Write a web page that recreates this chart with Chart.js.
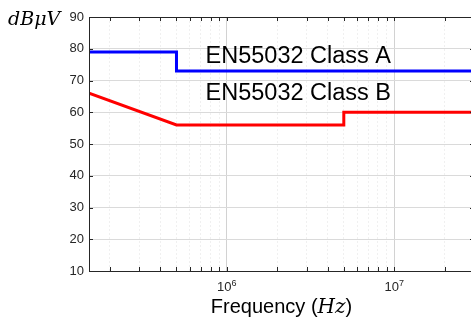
<!DOCTYPE html>
<html>
<head>
<meta charset="utf-8">
<script src="https://cdn.jsdelivr.net/npm/chart.js@4.4.1/dist/chart.umd.min.js"></script>
<style>
  html, body { margin: 0; padding: 0; background: #fff; overflow: hidden; }
  #wrap { width: 476px; height: 320px; }
</style>
</head>
<body>
<div id="wrap"><canvas id="limites" width="476" height="320"></canvas></div>
<script>
// Límites de emisión conducida EN55032 (frecuencia en Hz, nivel en dBµV)
const freqA = [1.5e5, 5e5, 5e5, 3e7];
const limitA = [79, 79, 73, 73];
const freqB = [1.5e5, 5e5, 5e6, 5e6, 3e7];
const limitB = [66, 56, 56, 60, 60];

const labelA = 'EN55032 Class A';
const labelB = 'EN55032 Class B';
const yTicks = [10, 20, 30, 40, 50, 60, 70, 80, 90];
const xMajor = [1e6, 1e7];
const xMin = 1.5e5, xMax = 3e7;

const axisColor = '#262626';

function esMayor(v) {
    return xMajor.includes(v);
}

// Marco, ticks hacia adentro y textos
const marco = {
    id: 'marco',
    afterDatasetsDraw(chart) {
        const { ctx, chartArea: a, scales: { x, y } } = chart;
        ctx.save();

        // textos de las curvas
        ctx.fillStyle = '#000';
        ctx.font = '23.5px "Liberation Sans", Arial, sans-serif';
        ctx.textBaseline = 'middle';
        ctx.textAlign = 'left';
        ctx.fillText(labelA, x.getPixelForValue(7.46e5), y.getPixelForValue(77.6));
        ctx.fillText(labelB, x.getPixelForValue(7.46e5), y.getPixelForValue(65.8));

        // ticks
        ctx.strokeStyle = axisColor;
        ctx.lineWidth = 1;
        ctx.beginPath();
        x.ticks.forEach(t => {
            const px = Math.round(x.getPixelForValue(t.value)) + 0.5;
            ctx.moveTo(px, a.bottom); ctx.lineTo(px, a.bottom - 4);
            ctx.moveTo(px, a.top); ctx.lineTo(px, a.top + 4);
        });
        y.ticks.forEach(t => {
            const py = Math.round(y.getPixelForValue(t.value)) + 0.5;
            ctx.moveTo(a.left, py); ctx.lineTo(a.left + 4, py);
            ctx.moveTo(a.right, py); ctx.lineTo(a.right - 4, py);
        });
        ctx.stroke();

        // caja
        ctx.strokeRect(Math.round(a.left) + 0.5, Math.round(a.top) + 0.5,
            Math.round(a.right - a.left), Math.round(a.bottom - a.top));

        // etiquetas de décadas (10 con exponente)
        ctx.fillStyle = axisColor;
        ctx.textBaseline = 'alphabetic';
        xMajor.forEach(v => {
            const base = '10', exp = String(Math.round(Math.log10(v)));
            ctx.font = '13px "Liberation Sans", Arial, sans-serif';
            const w1 = ctx.measureText(base).width;
            ctx.font = '9px "Liberation Sans", Arial, sans-serif';
            const w2 = ctx.measureText(exp).width;
            let px = x.getPixelForValue(v) - (w1 + w2) / 2;
            ctx.font = '13px "Liberation Sans", Arial, sans-serif';
            ctx.fillText(base, px, a.bottom + 20);
            ctx.font = '9px "Liberation Sans", Arial, sans-serif';
            ctx.fillText(exp, px + w1, a.bottom + 15);
        });

        // unidad del eje y
        ctx.fillStyle = '#000';
        ctx.font = 'italic 19px "DejaVu Serif", serif';
        ctx.fillText('dBμV', 8, 25);

        // título del eje x: "Frequency (Hz)"
        const f1 = '20px "Liberation Sans", Arial, sans-serif';
        const f2 = 'italic 20px "DejaVu Serif", serif';
        const partes = [['Frequency (', f1], ['Hz', f2], [')', f1]];
        let total = 0;
        partes.forEach(p => { ctx.font = p[1]; total += ctx.measureText(p[0]).width; });
        let cx = (a.left + a.right) / 2 - total / 2;
        partes.forEach(p => {
            ctx.font = p[1];
            ctx.fillText(p[0], cx, 313);
            cx += ctx.measureText(p[0]).width;
        });
        ctx.restore();
    }
};

document.addEventListener('DOMContentLoaded', () => {
    const ctx = document.getElementById('limites').getContext('2d');

    new Chart(ctx, {
        type: 'line',
        data: {
            datasets: [
                {
                    label: labelA,
                    data: freqA.map((f, i) => ({ x: f, y: limitA[i] })),
                    borderColor: '#0000ff',
                    borderWidth: 3,
                    pointRadius: 0,
                    tension: 0
                },
                {
                    label: labelB,
                    data: freqB.map((f, i) => ({ x: f, y: limitB[i] })),
                    borderColor: '#ff0000',
                    borderWidth: 3,
                    pointRadius: 0,
                    tension: 0
                }
            ]
        },
        options: {
            responsive: false,
            animation: false,
            layout: { padding: { top: 17, right: 2, left: 0, bottom: 0 } },
            plugins: {
                legend: { display: false },
                tooltip: { enabled: false }
            },
            scales: {
                x: {
                    type: 'logarithmic',
                    min: xMin,
                    max: xMax,
                    afterBuildTicks: scale => {
                        const ticks = [];
                        for (let e = 5; e <= 7; e++) {
                            for (let m = 1; m <= 9; m++) {
                                const v = m * Math.pow(10, e);
                                if (v > xMin && v <= xMax) ticks.push({ value: v });
                            }
                        }
                        scale.ticks = ticks;
                    },
                    afterFit: scale => {
                        scale.height = 49;
                        scale.paddingLeft = 0;
                        scale.paddingRight = 0;
                    },
                    ticks: { display: false },
                    grid: {
                        drawTicks: false,
                        color: c => esMayor(c.tick.value) ? '#d2d2d2' : '#f0f0f0'
                    },
                    border: {
                        display: false,
                        dash: c => (c.tick && esMayor(c.tick.value)) ? [] : [2, 2]
                    }
                },
                y: {
                    min: 10,
                    max: 90,
                    afterBuildTicks: scale => {
                        scale.ticks = yTicks.map(v => ({ value: v }));
                    },
                    afterFit: scale => { scale.width = 89; },
                    ticks: {
                        padding: 5,
                        color: axisColor,
                        font: { family: '"Liberation Sans", Arial', size: 13 }
                    },
                    grid: {
                        drawTicks: false,
                        color: '#dadada'
                    },
                    border: { display: false }
                }
            }
        },
        plugins: [marco]
    });
});
</script>
</body>
</html>
